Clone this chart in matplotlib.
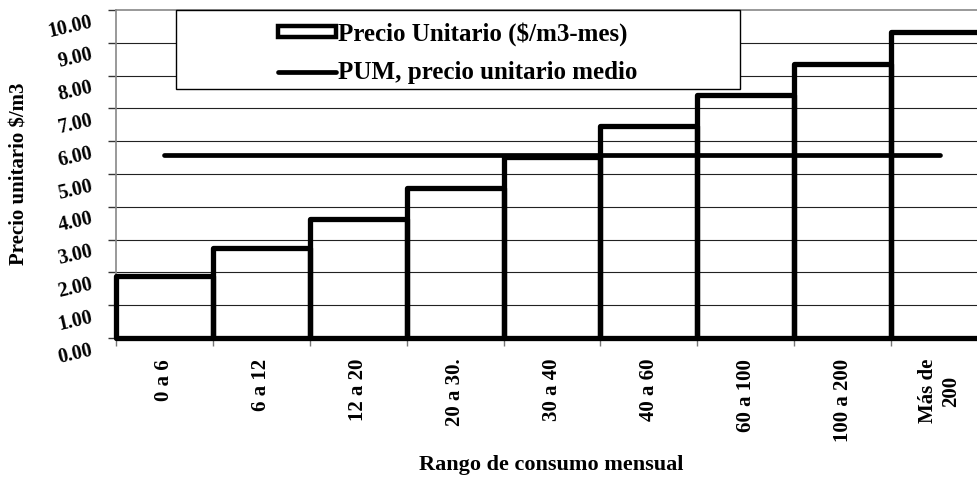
import matplotlib
matplotlib.use("Agg")
import matplotlib.pyplot as plt
from matplotlib.patches import Rectangle

# datos
rangos = ["0 a 6", "6 a 12", "12 a 20", "20 a 30.", "30 a 40", "40 a 60",
          "60 a 100", "100 a 200", "Más de\n200"]
precio_unitario = [1.89, 2.73, 3.63, 4.57, 5.52, 6.46, 7.41, 8.34, 9.34]
pum = 5.58
yticks = [0, 1, 2, 3, 4, 5, 6, 7, 8, 9, 10]

plt.rcParams['font.family'] = ['Liberation Serif', 'DejaVu Serif']
plt.rcParams['font.weight'] = 'bold'

fig = plt.figure(figsize=(9.78, 4.83), dpi=100)
ax = fig.add_axes([116/978, 145/483, 872/978, 328/483])

x = list(range(len(rangos)))

# grid lines behind the open bars
for v in yticks[1:-1]:
    ax.axhline(v, color='#222222', lw=0.8, zorder=1)

bars = ax.bar(x, precio_unitario, width=1.0, facecolor='none', edgecolor='black',
              lw=3.8, zorder=3, clip_on=False, joinstyle='round',
              label="Precio Unitario ($/m3-mes)")
pum_line, = ax.plot([x[0], x[-1]], [pum, pum], color='black', lw=3.4,
                    solid_capstyle='round', zorder=4,
                    label="PUM, precio unitario medio")

ax.set_xlim(-0.5, len(rangos) - 0.5)
ax.set_ylim(0, 10)

ax.set_xticks(x)
ax.set_xticklabels(rangos, rotation=90, fontsize=15, fontweight='bold',
                   multialignment='center')
ax.set_xticks([i - 0.5 for i in x] + [len(rangos) - 0.5], minor=True)
ax.tick_params(axis='x', which='major', length=0, pad=15)
ax.tick_params(axis='x', which='minor', length=6, color='#777777', width=1)

# y ticks: labels tilted like the original, placed a bit below each tick
ax.set_yticks(yticks)
ax.set_yticklabels([])
ax.tick_params(axis='y', length=6, color='#333333', width=1)
for v in yticks:
    ax.annotate("%.2f" % v, xy=(0, v), xycoords=('axes fraction', 'data'),
                xytext=(-17, -8.5), textcoords='offset points',
                ha='right', va='center', rotation=13, rotation_mode='anchor',
                fontsize=14.5, fontweight='bold', annotation_clip=False)

for s in ['top', 'left']:
    ax.spines[s].set_color('#888888')
    ax.spines[s].set_linewidth(1.2)
ax.spines['right'].set_visible(False)
ax.spines['bottom'].set_visible(False)

ax.set_ylabel("Precio unitario $/m3", fontsize=15, fontweight='bold')
ax.yaxis.set_label_coords(-0.099, 0.5)
fig.text(551/978, 1 - 465/483, "Rango de consumo mensual", fontsize=16,
         fontweight='bold', ha='center', va='center')

# caja de la leyenda
x0 = (176 - 116) / 872
x1 = (740 - 116) / 872
y0 = (338 - 89) / 328
box = Rectangle((x0, y0), x1 - x0, 1 - y0, transform=ax.transAxes,
                facecolor='white', edgecolor='black', lw=1, zorder=5,
                clip_on=False)
ax.add_patch(box)
leg = ax.legend(handles=[bars, pum_line], loc='center',
                bbox_to_anchor=((x0 + x1) / 2, (338 - 53) / 328),
                frameon=False, prop={'size': 18, 'weight': 'bold'},
                handlelength=2.3, handleheight=0.25, handletextpad=0.1,
                labelspacing=0.6, borderaxespad=0)
leg.set_zorder(6)
for h in leg.legend_handles:
    if isinstance(h, Rectangle):
        h.set_linewidth(3.2)

fig.savefig("out.png", dpi=100)
